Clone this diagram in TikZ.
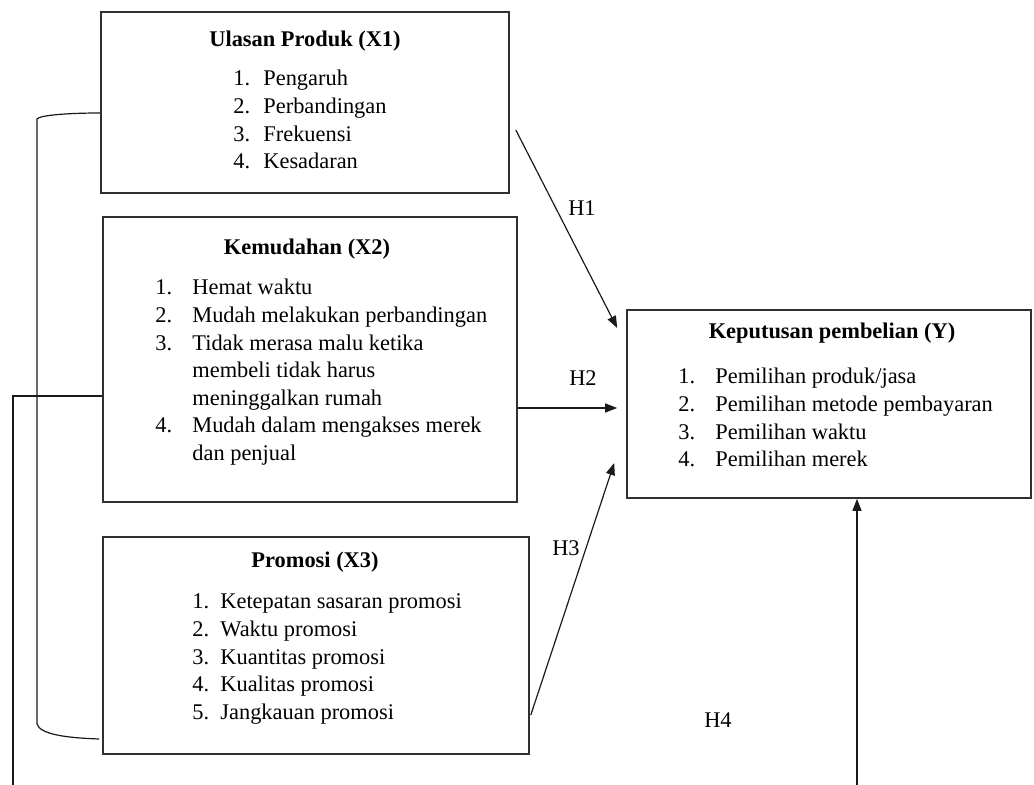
\documentclass[tikz,border=0pt]{standalone}
\usepackage{fontspec}
\setmainfont{Liberation Serif}
\usepackage{tikz}
\usetikzlibrary{arrows.meta,calc}
\definecolor{ink}{HTML}{1A1A1A}
\definecolor{boxline}{HTML}{303030}
\tikzset{
  varbox/.style={draw=boxline,line width=0.8pt,rectangle,inner sep=0pt},
  headtext/.style={anchor=base,inner sep=0pt,font=\fontsize{11.2}{13.8}\selectfont\bfseries},
  listtext/.style={anchor=base west,inner sep=0pt,font=\fontsize{11.2}{13.8}\selectfont},
  hlabel/.style={inner sep=1pt,font=\fontsize{11.2}{13.8}\selectfont},
  flowarr/.style={-{Triangle[length=6pt,width=4.5pt]},line width=0.6pt,color=ink},
  plainline/.style={line width=0.6pt,color=ink}
}

\begin{document}
\begin{tikzpicture}[x=0.5pt,y=-0.5pt]
  \useasboundingbox (0,0) rectangle (1034,785);

  % variable boxes
  \node[varbox,minimum width=204pt,minimum height=90.5pt] (x1) at (305,102.5) {};
  \node[varbox,minimum width=207pt,minimum height=142.5pt] (x2) at (310,359.5) {};
  \node[varbox,minimum width=213pt,minimum height=108.5pt] (x3) at (316,645.5) {};
  \node[varbox,minimum width=202pt,minimum height=94pt] (y) at (829,404) {};

  \node[headtext] (x1head) at (305,47) {Ulasan Produk (X1)};
  \node[headtext] (x2head) at (307,255) {Kemudahan (X2)};
  \node[headtext] (x3head) at (315,568) {Promosi (X3)};
  \node[headtext] (yhead) at (832,339) {Keputusan pembelian (Y)};

  \node[listtext] (x1list) at (233,86) {\begin{tabular}[t]{@{}p{15pt}@{}l@{}}
    1.&Pengaruh\\ 2.&Perbandingan\\ 3.&Frekuensi\\ 4.&Kesadaran\end{tabular}};
  \node[listtext] (x2list) at (155,295) {\begin{tabular}[t]{@{}p{18.5pt}@{}l@{}}
    1.&Hemat waktu\\ 2.&Mudah melakukan perbandingan\\ 3.&Tidak merasa malu ketika\\
    &membeli tidak harus\\ &meninggalkan rumah\\ 4.&Mudah dalam mengakses merek\\
    &dan penjual\end{tabular}};
  \node[listtext] (x3list) at (192,609) {\begin{tabular}[t]{@{}p{14pt}@{}l@{}}
    1.&Ketepatan sasaran promosi\\ 2.&Waktu promosi\\ 3.&Kuantitas promosi\\
    4.&Kualitas promosi\\ 5.&Jangkauan promosi\end{tabular}};
  \node[listtext] (ylist) at (678,384) {\begin{tabular}[t]{@{}p{18.5pt}@{}l@{}}
    1.&Pemilihan produk/jasa\\ 2.&Pemilihan metode pembayaran\\ 3.&Pemilihan waktu\\
    4.&Pemilihan merek\end{tabular}};

  % bracket joining X1 and X3
  \draw[plainline] ($(x1.west)+(0,10.5)$) .. controls (70,113) and (40,115) .. (37,119)
    -- (37,724) .. controls (40,735) and (70,738) .. ($(x3.west)+(-3,93.5)$);

  % simultaneous path H4
  \coordinate (turnA) at (13,396);
  \coordinate (turnB) at (13,786);
  \draw[flowarr] ($(x2.west)+(0,36.5)$) -- (turnA) -- (turnB) -| ($(y.south)+(28,0)$);

  \draw[flowarr] ($(x1.east)+(6,27.5)$) -- ($(y.west)+(-9,-76)$);
  \draw[flowarr] ($(x2.east)+(0,48.5)$) -- ($(y.west)+(-9,4)$);
  \draw[flowarr] ($(x3.east)+(1,69.5)$) -- ($(y.west)+(-12,59)$);

  \node[hlabel] (h1) at (582,208) {H1};
  \node[hlabel] (h2) at (583,378) {H2};
  \node[hlabel] (h3) at (566,548) {H3};
  \node[hlabel] (h4) at (718,720) {H4};
\end{tikzpicture}
\end{document}
